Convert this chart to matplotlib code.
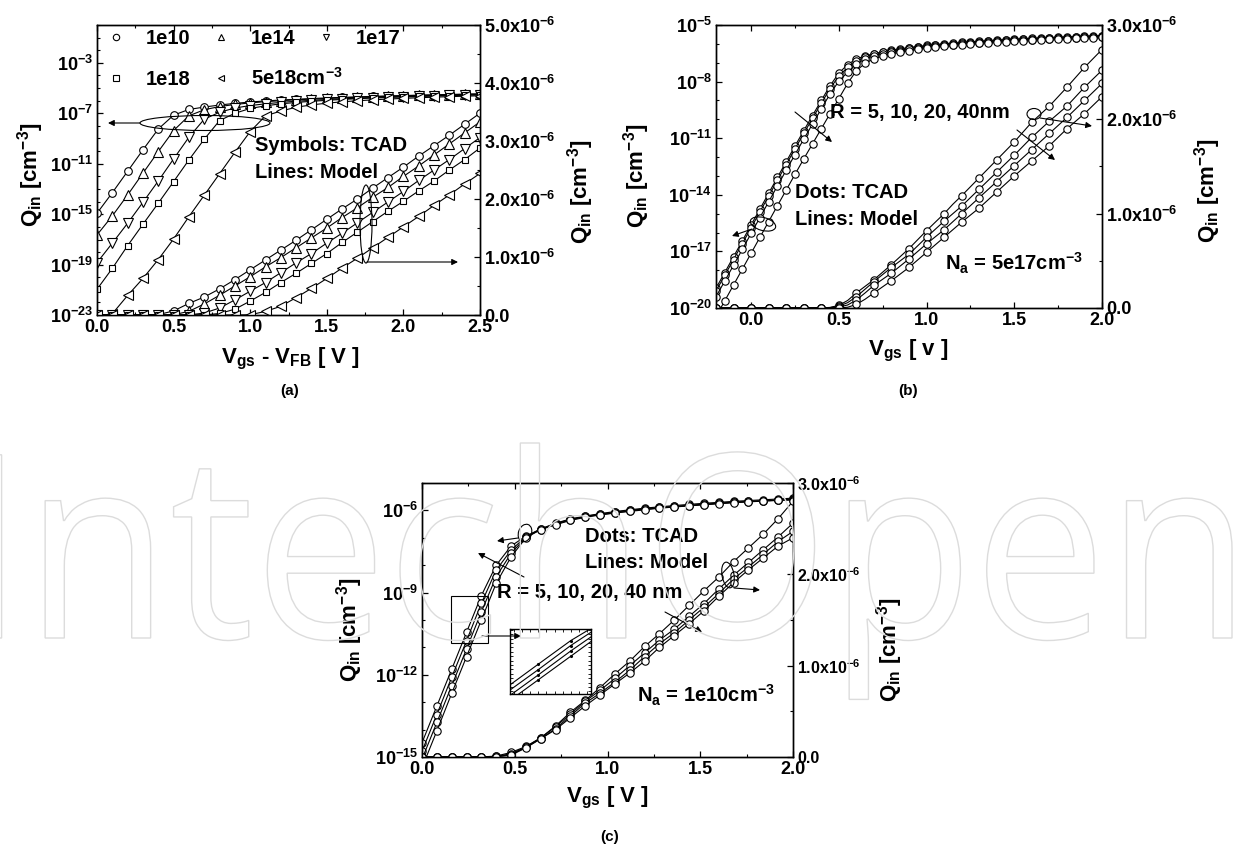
import numpy as np
import matplotlib
matplotlib.use('Agg')
import matplotlib.pyplot as plt
from matplotlib.lines import Line2D
from matplotlib.patches import Ellipse, FancyArrowPatch, Rectangle, PathPatch
from matplotlib.transforms import Affine2D
from matplotlib.textpath import TextPath
from matplotlib.font_manager import FontProperties
from matplotlib.ticker import FixedLocator, MultipleLocator, FuncFormatter, NullFormatter

W, H = 1236, 844

plt.rcParams['font.family'] = ['Liberation Sans', 'DejaVu Sans']
plt.rcParams['font.weight'] = 'bold'
plt.rcParams['mathtext.fontset'] = 'custom'
plt.rcParams['mathtext.rm'] = 'Liberation Sans:bold'
plt.rcParams['mathtext.it'] = 'Liberation Sans:bold'
plt.rcParams['mathtext.bf'] = 'Liberation Sans:bold'
plt.rcParams['mathtext.default'] = 'rm'
plt.rcParams['axes.linewidth'] = 1.0

# ==========================================
# (a) Q_in vs Vgs-VFB for several doping levels
#     low part read on the log axis (log10 Q), high part on the linear axis (1e-6 cm^-3)
# ==========================================
a_vgs = [0.0, 0.1, 0.2, 0.3, 0.4, 0.5, 0.6, 0.7, 0.8, 0.9, 1.0, 1.1, 1.2,
         1.3, 1.4, 1.5, 1.6, 1.7, 1.8, 1.9, 2.0, 2.1, 2.2, 2.3, 2.4, 2.5]

a_1e10_log = [-14.93, -13.3, -11.6, -9.9, -8.25, -7.15]
a_1e10_lin = [0.2, 0.31, 0.45, 0.61, 0.78, 0.95, 1.12, 1.29, 1.47, 1.65, 1.83, 2.0,
              2.19, 2.37, 2.55, 2.74, 2.92, 3.1, 3.29, 3.48]
a_1e14_log = [-16.65, -15.14, -13.48, -11.75, -10.04, -8.37, -7.2]
a_1e14_lin = [0.19, 0.34, 0.5, 0.66, 0.83, 0.99, 1.16, 1.33, 1.5, 1.68, 1.85, 2.03,
              2.2, 2.39, 2.57, 2.76, 2.95, 3.14, 3.33]
a_1e17_log = [-18.85, -17.3, -15.72, -14.06, -12.37, -10.62, -8.9, -7.47]
a_1e17_lin = [0.12, 0.26, 0.41, 0.56, 0.73, 0.9, 1.06, 1.24, 1.41, 1.59, 1.77, 1.95,
              2.13, 2.32, 2.5, 2.68, 2.87, 3.06]
a_1e18_log = [-20.96, -19.3, -17.5, -15.8, -14.13, -12.42, -10.7, -9.06, -7.58]
a_1e18_lin = [0.1, 0.24, 0.39, 0.56, 0.72, 0.89, 1.06, 1.25, 1.43, 1.61, 1.79, 1.96,
              2.14, 2.31, 2.5, 2.68, 2.88]
a_5e18_log = [-24.5, -22.9, -21.45, -20.1, -18.6, -16.97, -15.2, -13.5, -11.8, -10.1,
              -8.45, -7.2]
a_5e18_lin = [0.15, 0.3, 0.46, 0.63, 0.81, 0.98, 1.16, 1.34, 1.52, 1.7, 1.89, 2.07,
              2.26, 2.44]

# ==========================================
# (b) Na = 5e17, R = 5, 10, 20, 40 nm
# ==========================================
b_vgs = [-0.2, -0.15, -0.1, -0.05, 0.0, 0.05, 0.1, 0.15, 0.2, 0.25, 0.3, 0.35, 0.4,
         0.45, 0.5, 0.55, 0.6, 0.65, 0.7, 0.75, 0.8, 0.85, 0.9, 0.95, 1.0, 1.05, 1.1,
         1.15, 1.2, 1.25, 1.3, 1.35, 1.4, 1.45, 1.5, 1.55, 1.6, 1.65, 1.7, 1.75, 1.8,
         1.85, 1.9, 1.95, 2.0]

b_r5_log = [-18.95, -18.12, -17.28, -16.44, -15.6, -14.76, -13.92, -13.08, -12.25,
            -11.42, -10.6, -9.8, -9.0, -8.22, -7.55, -7.1]
b_r5_lin = [0.16, 0.23, 0.3, 0.38, 0.46, 0.545, 0.63, 0.725, 0.82, 0.91, 1.0, 1.1,
            1.19, 1.285, 1.38, 1.475, 1.57, 1.665, 1.76, 1.865, 1.97, 2.055, 2.14,
            2.24, 2.34, 2.445, 2.55, 2.645, 2.74]
b_r10_log = [-19.1, -18.27, -17.43, -16.59, -15.75, -14.91, -14.07, -13.23, -12.4,
             -11.57, -10.75, -9.95, -9.15, -8.37, -7.7, -7.25]
b_r10_lin = [0.12, 0.2, 0.28, 0.355, 0.43, 0.5, 0.57, 0.66, 0.75, 0.835, 0.92, 1.0,
             1.08, 1.17, 1.26, 1.35, 1.44, 1.53, 1.62, 1.715, 1.81, 1.895, 1.98,
             2.06, 2.14, 2.24, 2.34, 2.43, 2.52]
b_r20_log = [-19.4, -18.57, -17.73, -16.89, -16.05, -15.21, -14.37, -13.53, -12.7,
             -11.87, -11.05, -10.25, -9.45, -8.65, -7.98, -7.5]
b_r20_lin = [0.085, 0.16, 0.24, 0.305, 0.37, 0.445, 0.52, 0.6, 0.68, 0.755, 0.83,
             0.915, 1.0, 1.085, 1.17, 1.255, 1.34, 1.425, 1.51, 1.595, 1.68, 1.765,
             1.85, 1.935, 2.02, 2.11, 2.2, 2.29, 2.38]
b_r40_log = [-20.45, -19.62, -18.78, -17.94, -17.1, -16.26, -15.42, -14.58, -13.75,
             -12.92, -12.1, -11.3, -10.5, -9.7, -8.9, -8.1, -7.42, -7.03]
b_r40_lin = [0.16, 0.225, 0.29, 0.36, 0.43, 0.51, 0.59, 0.67, 0.75, 0.83, 0.91,
             0.985, 1.06, 1.145, 1.23, 1.315, 1.4, 1.48, 1.56, 1.64, 1.72, 1.81, 1.9,
             1.98, 2.06, 2.15, 2.24]

# ==========================================
# (c) Na = 1e10, R = 5, 10, 20, 40 nm
# ==========================================
c_vgs = [0.0, 0.08, 0.16, 0.24, 0.32, 0.4, 0.48, 0.56, 0.64, 0.72, 0.8, 0.88, 0.96,
         1.04, 1.12, 1.2, 1.28, 1.36, 1.44, 1.52, 1.6, 1.68, 1.76, 1.84, 1.92, 2.0]

c_r5_log = [-14.48, -13.14, -11.8, -10.45, -9.11, -8.0, -7.3]
c_r5_lin = [0.115, 0.21, 0.34, 0.49, 0.62, 0.76, 0.91, 1.05, 1.21, 1.35, 1.5, 1.66,
            1.82, 1.97, 2.14, 2.29, 2.44, 2.61, 2.8]
c_r10_log = [-14.79, -13.45, -12.09, -10.76, -9.39, -8.18, -7.45]
c_r10_lin = [0.11, 0.21, 0.33, 0.47, 0.61, 0.73, 0.86, 1.0, 1.14, 1.28, 1.4, 1.54,
             1.68, 1.84, 1.99, 2.13, 2.27, 2.41, 2.56]
c_r20_log = [-15.08, -13.74, -12.4, -11.06, -9.7, -8.42, -7.57]
c_r20_lin = [0.105, 0.2, 0.31, 0.45, 0.59, 0.7, 0.82, 0.95, 1.1, 1.24, 1.36, 1.5,
             1.64, 1.79, 1.95, 2.08, 2.22, 2.36, 2.47]
c_r40_log = [-15.39, -14.05, -12.68, -11.34, -10.0, -8.66, -7.7]
c_r40_lin = [0.1, 0.2, 0.3, 0.43, 0.56, 0.68, 0.8, 0.92, 1.05, 1.2, 1.33, 1.46, 1.6,
             1.76, 1.91, 2.05, 2.18, 2.31, 2.4]


def to_q(log_part, lin_part):
    return np.concatenate([10.0 ** np.array(log_part), np.array(lin_part) * 1e-6])


def log_fmt(v, pos):
    return r'$10^{%d}$' % int(round(np.log10(v)))


def lin_fmt(v, pos):
    if abs(v) < 1e-12:
        return '0.0'
    return '%.1fx10$^{-6}$' % (v * 1e6)


def x_fmt(v, pos):
    return '%.1f' % (0.0 if abs(v) < 1e-9 else v)


def make_panel(rect, xlim, ylo, yhi, ymajor, ylin_max, rsize=13):
    ax = fig.add_axes(rect)
    ax.set_yscale('log')
    ax.set_xlim(xlim)
    ax.set_ylim(10.0 ** ylo, 10.0 ** yhi)
    ax.yaxis.set_major_locator(FixedLocator([10.0 ** e for e in ymajor]))
    ax.yaxis.set_minor_locator(FixedLocator([10.0 ** e for e in range(ylo, yhi + 1)]))
    ax.yaxis.set_major_formatter(FuncFormatter(log_fmt))
    ax.yaxis.set_minor_formatter(NullFormatter())
    ax.xaxis.set_major_locator(MultipleLocator(0.5))
    ax.xaxis.set_minor_locator(MultipleLocator(0.25))
    ax.xaxis.set_major_formatter(FuncFormatter(x_fmt))
    ax.tick_params(which='both', direction='in', top=True, right=False, labelsize=13, pad=3)
    ax.tick_params(which='major', length=4, width=0.9)
    ax.tick_params(which='minor', length=2.3, width=0.8)
    ax2 = ax.twinx()
    ax2.set_ylim(0, ylin_max)
    ax2.yaxis.set_major_locator(MultipleLocator(1e-6))
    ax2.yaxis.set_minor_locator(MultipleLocator(0.5e-6))
    ax2.yaxis.set_major_formatter(FuncFormatter(lin_fmt))
    ax2.tick_params(which='both', direction='in', labelsize=rsize, pad=3)
    ax2.tick_params(which='major', length=4, width=0.9)
    ax2.tick_params(which='minor', length=2.3, width=0.8)
    return ax, ax2


def draw_series(ax, ax2, v, q, marker, ms=5.5, every=1):
    style = dict(color='k', lw=0.8, marker=marker, ms=ms, mfc='white', mec='k', mew=0.8)
    ax.plot(v, q, **style)
    ax2.plot(v, q, markevery=every, **style)


fig = plt.figure(figsize=(W / 100, H / 100), dpi=100)
pix = Affine2D().scale(1, -1).translate(0, H)


def ptext(x, y, s, size=14.5, **kw):
    fig.text(x, y, s, transform=pix, fontsize=size, fontweight='bold', **kw)


def parrow(p0, p1, head=True):
    style = '-|>' if head else '-'
    fig.add_artist(FancyArrowPatch(p0, p1, transform=pix, arrowstyle=style,
                                   mutation_scale=9, lw=0.8, color='k',
                                   shrinkA=0, shrinkB=0, zorder=5))


def pellipse(cx, cy, w, h, angle=0):
    fig.add_artist(Ellipse((cx, cy), w, h, angle=angle, transform=pix,
                           fill=False, lw=0.8, color='k', zorder=5))


# ---------------- panel (a) ----------------
axa, axa2 = make_panel([97 / W, 1 - 315 / H, 383 / W, 290 / H], (0, 2.5), -23, 0,
                       [-23, -19, -15, -11, -7, -3], 5e-6)
draw_series(axa, axa2, a_vgs, to_q(a_1e10_log, a_1e10_lin), 'o')
draw_series(axa, axa2, a_vgs, to_q(a_1e14_log, a_1e14_lin), '^', ms=6.5)
draw_series(axa, axa2, a_vgs, to_q(a_1e17_log, a_1e17_lin), 'v', ms=6.5)
draw_series(axa, axa2, a_vgs, to_q(a_1e18_log, a_1e18_lin), 's', ms=5)
draw_series(axa, axa2, a_vgs, to_q(a_5e18_log, a_5e18_lin), '<', ms=6.5)


def leg_handle(m, ms=4.6):
    return Line2D([], [], ls='none', marker=m, ms=ms, mfc='white', mec='k', mew=0.8)


leg_kw = dict(loc='upper left', frameon=False, fontsize=14.5, handlelength=1.0,
              handletextpad=1.0, columnspacing=1.0, borderpad=0, borderaxespad=0)
leg1 = axa2.legend([leg_handle('o'), leg_handle('^'), leg_handle('v')],
                   ['1e10', '1e14', '1e17'], ncol=3,
                   bbox_to_anchor=(0.0225, 0.985), **leg_kw)
axa2.add_artist(leg1)
axa2.legend([leg_handle('s', 4.2), leg_handle('<')], ['1e18', '5e18cm$^{-3}$'], ncol=2,
            bbox_to_anchor=(0.0225, 0.855), **leg_kw)

pellipse(205, 123, 130, 15)
parrow((140, 123), (108, 123))
pellipse(366, 224, 12, 78)
parrow((367, 262), (458, 262))
ptext(255, 151, 'Symbols: TCAD')
ptext(255, 178, 'Lines: Model')

ptext(290, 363, r'V$_{gs}$ - V$_{FB}$ [ V ]', size=16, ha='center', va='baseline')
ptext(290, 391, '(a)', size=11, ha='center', va='center')
ptext(31, 175, r'Q$_{in}$ [cm$^{-3}$]', size=16, rotation=90, ha='center', va='center')
ptext(581, 192, r'Q$_{in}$ [cm$^{-3}$]', size=16, rotation=90, ha='center', va='center')

# ---------------- panel (b) ----------------
axb, axb2 = make_panel([716 / W, 1 - 308 / H, 386 / W, 283 / H], (-0.2, 2.0), -20, -5,
                       [-20, -17, -14, -11, -8, -5], 3e-6)
for lg, ln in [(b_r5_log, b_r5_lin), (b_r10_log, b_r10_lin),
               (b_r20_log, b_r20_lin), (b_r40_log, b_r40_lin)]:
    draw_series(axb, axb2, b_vgs, to_q(lg, ln), 'o', ms=5.3, every=2)

parrow((795, 112), (832, 142))
ptext(830, 118, 'R = 5, 10, 20, 40nm')
ptext(795, 198, 'Dots: TCAD')
ptext(795, 225, 'Lines: Model')
ptext(945, 270, r'N$_a$ = 5e17cm$^{-3}$')
pellipse(763, 224, 26, 13, angle=15)
parrow((752, 229), (732, 236))
pellipse(1034, 114, 14, 11)
parrow((1040, 118), (1092, 126))
parrow((1017, 130), (1055, 160))

ptext(908, 355, r'V$_{gs}$ [ v ]', size=16, ha='center', va='baseline')
ptext(908, 391, '(b)', size=11, ha='center', va='center')
ptext(637, 176, r'Q$_{in}$ [cm$^{-3}$]', size=16, rotation=90, ha='center', va='center')
ptext(1208, 191, r'Q$_{in}$ [cm$^{-3}$]', size=16, rotation=90, ha='center', va='center')

# ---------------- panel (c) ----------------
axc, axc2 = make_panel([422 / W, 1 - 757 / H, 371 / W, 274 / H], (0, 2.0), -15, -5,
                       [-15, -12, -9, -6], 3e-6, rsize=11.5)
c_series = [(c_r5_log, c_r5_lin), (c_r10_log, c_r10_lin),
            (c_r20_log, c_r20_lin), (c_r40_log, c_r40_lin)]
for lg, ln in c_series:
    draw_series(axc, axc2, c_vgs, to_q(lg, ln), 'o', ms=5.3)

ptext(585, 542, 'Dots: TCAD')
ptext(585, 568, 'Lines: Model')
ptext(497, 598, 'R = 5, 10, 20, 40 nm')
ptext(637, 702, r'N$_a$ = 1e10cm$^{-3}$')
parrow((524, 577), (478, 553))
pellipse(525, 533, 13, 18, angle=20)
parrow((518, 538), (497, 541))
pellipse(728, 575, 12, 26, angle=-10)
parrow((734, 588), (760, 590))
parrow((665, 612), (702, 632))

# zoom box and inset
fig.add_artist(Rectangle((451, 596), 37, 47, transform=pix, fill=False, lw=0.8,
                         color='k', zorder=5))
parrow((482, 636), (521, 636))
axi = fig.add_axes([510 / W, 1 - 694 / H, 81 / W, 65 / H])
axi.set_yscale('log')
for lg, ln in c_series:
    axi.plot(c_vgs, to_q(lg, ln), color='k', lw=0.8, marker='.', ms=2.5)
axi.set_xlim(0.17, 0.37)
axi.set_ylim(10 ** -12.15, 10 ** -8.45)
axi.xaxis.set_major_locator(MultipleLocator(0.1))
axi.xaxis.set_minor_locator(MultipleLocator(0.02))
axi.yaxis.set_major_locator(FixedLocator([1e-12, 1e-11, 1e-10, 1e-9]))
axi.yaxis.set_minor_locator(FixedLocator([10 ** (-12.0 + 0.25 * k) for k in range(15)]))
axi.tick_params(which='both', direction='in', top=True, right=True,
                labelbottom=False, labelleft=False, length=2, width=0.6)
axi.yaxis.set_minor_formatter(NullFormatter())

ptext(607, 802, r'V$_{gs}$ [ V ]', size=16, ha='center', va='baseline')
ptext(610, 837, '(c)', size=11, ha='center', va='center')
ptext(350, 630, r'Q$_{in}$ [cm$^{-3}$]', size=16, rotation=90, ha='center', va='center')
ptext(890, 650, r'Q$_{in}$ [cm$^{-3}$]', size=16, rotation=90, ha='center', va='center')

# watermark, outlined, stretched to span the page width
wm = TextPath((0, 0), 'IntechOpen', size=100,
              prop=FontProperties(family='Open Sans', weight='normal'))
ext = wm.get_extents()
sx = 1250 / ext.width
sy = 195 / ext.ymax
wm_t = Affine2D().translate(-ext.x0, 0).scale(sx, sy).translate(-18, H - 638)
fig.add_artist(PathPatch(wm, transform=wm_t, facecolor='none', edgecolor='#dcdcdc',
                         lw=1.0, zorder=10))

fig.savefig('out.png', dpi=100)
